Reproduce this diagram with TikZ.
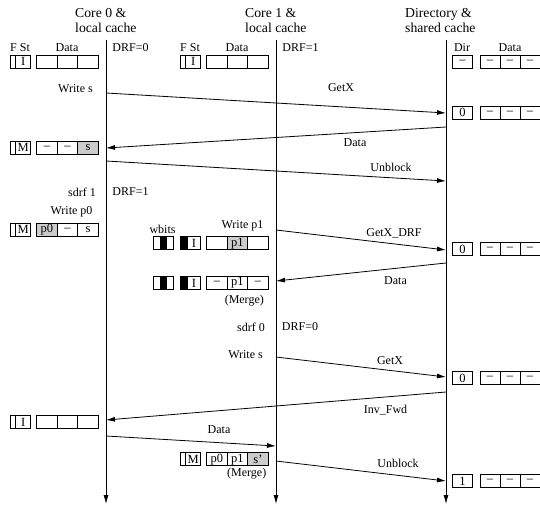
\documentclass[tikz,border=0pt]{standalone}
\usepackage{fontspec}
\setmainfont{Liberation Serif}
\usetikzlibrary{arrows.meta}
\newcommand\tri[9]{%
  \node[cell,#4] (#1a) at (#2,#3) {#5};
  \node[cell,#6,anchor=west] (#1b) at (#1a.east) {#7};
  \node[cell,#8,anchor=west] (#1c) at (#1b.east) {#9};}
\newcommand\fst[5]{%
  \node[cell,minimum width=5.7pt,anchor=west,#4] (#1f) at (#2,#3) {};
  \node[cell,minimum width=15pt,anchor=west] (#1s) at (#1f.east) {#5};}
\newcommand\wb[3]{%
  \node[cell,minimum width=6.67pt] (#1a) at (#2,#3) {};
  \node[cell,minimum width=6.67pt,fill=black,anchor=west] (#1b) at (#1a.east) {};
  \node[cell,minimum width=6.67pt,anchor=west] (#1c) at (#1b.east) {};}
\newcommand\dsh{\textendash}
\begin{document}
\begin{tikzpicture}[x=1pt,y=-1pt,
  lbl/.style={font=\fontsize{12}{13}\selectfont, inner sep=0pt},
  ttl/.style={font=\fontsize{13.7}{15.5}\selectfont, inner sep=0pt, align=left, anchor=north west},
  cell/.style={draw, line width=0.7pt, minimum width=20.5pt, minimum height=13pt, inner sep=0pt, outer sep=0pt, font=\fontsize{12.5}{13}\selectfont},
  shd/.style={fill=black!20},
  life/.style={line width=0.8pt, -{Latex[length=9pt,width=5pt]}},
  msg/.style={line width=0.8pt, -{Latex[length=9pt,width=5pt]}}]
\useasboundingbox (0,0) rectangle (540,506);
% titles
\node[ttl] (t0) at (75,8) {Core 0 \&\\local cache};
\node[ttl] (t1) at (245,8) {Core 1 \&\\local cache};
\node[ttl] (t2) at (405,8) {Directory \&\\shared cache};
% lifelines
\coordinate (c0t) at (106,40); \coordinate (c0b) at (106,504);
\coordinate (c1t) at (276,40); \coordinate (c1b) at (276,504);
\coordinate (c2t) at (446,40); \coordinate (c2b) at (446,504);
\draw[life] (c0t) -- (c0b);
\draw[life] (c1t) -- (c1b);
\draw[life] (c2t) -- (c2b);
% headers
\node[lbl] (h0a) at (20,48) {F St};
\node[lbl] (h0b) at (67,48) {Data};
\node[lbl] (h0c) at (130.5,48) {DRF=0};
\node[lbl] (h1a) at (190,48) {F St};
\node[lbl] (h1b) at (237,48) {Data};
\node[lbl] (h1c) at (300.5,48) {DRF=1};
\node[lbl] (h2a) at (462,48) {Dir};
\node[lbl] (h2b) at (510,48) {Data};
% initial rows
\fst{s0r1}{10}{61.5}{}{I}
\tri{d0r1}{46.95}{61.5}{}{}{}{}{}{}
\fst{s1r1}{180}{61.5}{}{I}
\tri{d1r1}{216.95}{61.5}{}{}{}{}{}{}
\node[cell,minimum width=20.4pt] (dir1) at (462.5,61.5) {\dsh};
\tri{dd1}{490}{61.5}{minimum width=20pt}{\dsh}{minimum width=20pt}{\dsh}{minimum width=20pt}{\dsh}
% event 1
\node[lbl] (w1) at (75.5,89) {Write s};
\coordinate (m1s) at (106,93); \coordinate (m1e) at (446,113);
\draw[msg] (m1s) -- (m1e);
\node[lbl] (l1) at (341,88) {GetX};
\node[cell,minimum width=20.4pt] (dir2) at (462.5,112.5) {0};
\tri{dd2}{490}{112.5}{minimum width=20pt}{\dsh}{minimum width=20pt}{\dsh}{minimum width=20pt}{\dsh}
\coordinate (m2s) at (446,127); \coordinate (m2e) at (106,148);
\draw[msg] (m2s) -- (m2e);
\node[lbl] (l2) at (355,143) {Data};
\fst{s0r2}{10}{147.5}{}{M}
\tri{d0r2}{46.95}{147.5}{}{\dsh}{}{\dsh}{shd}{s}
\coordinate (m3s) at (106,161); \coordinate (m3e) at (446,181);
\draw[msg] (m3s) -- (m3e);
\node[lbl] (l3) at (391,167) {Unblock};
\node[lbl] (sd1) at (82,192) {sdrf 1};
\node[lbl] (dr1) at (130.5,192) {DRF=1};
% event 2
\node[lbl] (w2) at (71.5,212) {Write p0};
\fst{s0r3}{10}{229.7}{}{M}
\tri{d0r3}{46.95}{229.7}{shd}{p0}{}{\dsh}{}{s}
\node[lbl] (w3) at (242.5,226) {Write p1};
\node[lbl] (wbl) at (162.5,229) {wbits};
\wb{wb1}{156.6}{243.3}
\node[cell,minimum width=7pt,anchor=west,fill=black] (s1r2f) at (180,243.3) {};
\node[cell,minimum width=13.7pt,anchor=west] (s1r2s) at (s1r2f.east) {I};
\tri{d1r2}{216.95}{243.3}{}{}{shd}{p1}{}{}
\coordinate (m4s) at (276,230); \coordinate (m4e) at (446,250);
\draw[msg] (m4s) -- (m4e);
\node[lbl] (l4) at (394,233) {GetX\_DRF};
\node[cell,minimum width=20.4pt] (dir3) at (462.5,249.3) {0};
\tri{dd3}{490}{249.3}{minimum width=20pt}{\dsh}{minimum width=20pt}{\dsh}{minimum width=20pt}{\dsh}
\coordinate (m5s) at (446,263); \coordinate (m5e) at (276,281);
\draw[msg] (m5s) -- (m5e);
\node[lbl] (l5) at (395.5,281) {Data};
\wb{wb2}{156.6}{283}
\node[cell,minimum width=7pt,anchor=west,fill=black] (s1r3f) at (180,283) {};
\node[cell,minimum width=13.7pt,anchor=west] (s1r3s) at (s1r3f.east) {I};
\tri{d1r3}{216.95}{283}{}{\dsh}{}{p1}{}{\dsh}
\node[lbl] (mg1) at (244.3,301) {(Merge)};
\node[lbl] (sd0) at (251,327) {sdrf 0};
\node[lbl] (dr0) at (300,327) {DRF=0};
% event 3
\node[lbl] (w4) at (245.5,355) {Write s};
\coordinate (m6s) at (276,357); \coordinate (m6e) at (446,377);
\draw[msg] (m6s) -- (m6e);
\node[lbl] (l6) at (390,361) {GetX};
\node[cell,minimum width=20.4pt] (dir4) at (462.5,378) {0};
\tri{dd4}{490}{378}{minimum width=20pt}{\dsh}{minimum width=20pt}{\dsh}{minimum width=20pt}{\dsh}
\coordinate (m7s) at (446,392); \coordinate (m7e) at (106,420);
\draw[msg] (m7s) -- (m7e);
\node[lbl] (l7) at (385.5,410) {Inv\_Fwd};
\fst{s0r4}{10}{422}{}{I}
\tri{d0r4}{46.95}{422}{}{}{}{}{}{}
\coordinate (m8s) at (106,436); \coordinate (m8e) at (276,446);
\draw[msg] (m8s) -- (m8e);
\node[lbl] (l8) at (219,430) {Data};
\fst{s1r4}{180}{459.3}{}{M}
\tri{d1r4}{216.95}{459.3}{}{p0}{}{p1}{shd}{s'}
\node[lbl] (mg2) at (246.7,474) {(Merge)};
\coordinate (m9s) at (276,461); \coordinate (m9e) at (446,481);
\draw[msg] (m9s) -- (m9e);
\node[lbl] (l9) at (398,463) {Unblock};
\node[cell,minimum width=20.4pt] (dir5) at (462.5,481) {1};
\tri{dd5}{490}{481}{minimum width=20pt}{\dsh}{minimum width=20pt}{\dsh}{minimum width=20pt}{\dsh}
\end{tikzpicture}
\end{document}
